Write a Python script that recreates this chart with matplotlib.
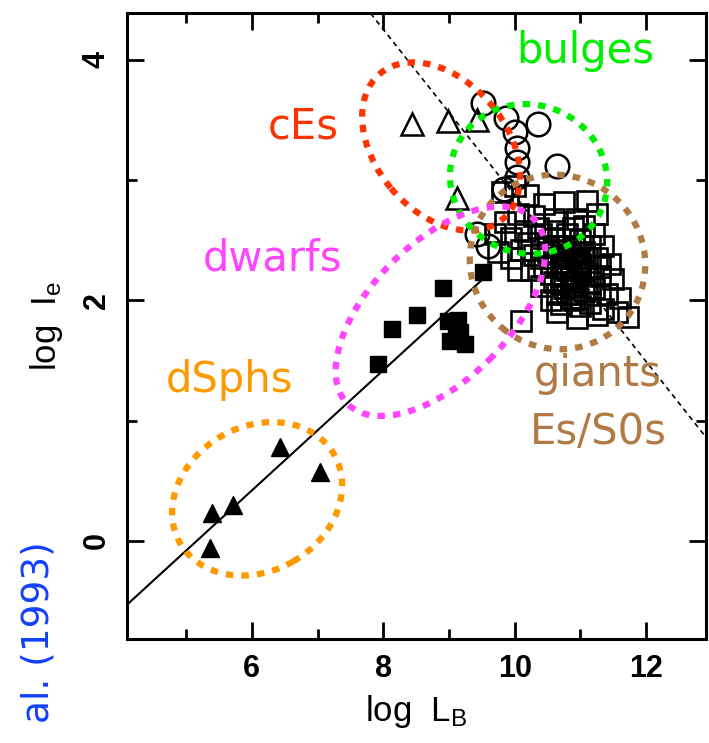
import matplotlib
matplotlib.use("Agg")
import matplotlib.pyplot as plt
from matplotlib.patches import Ellipse
from matplotlib.transforms import Affine2D, ScaledTranslation
from matplotlib.ticker import MultipleLocator

plt.rcParams['font.family'] = ['Liberation Sans', 'DejaVu Sans']
plt.rcParams['mathtext.fontset'] = 'custom'
plt.rcParams['mathtext.rm'] = 'Liberation Sans'
plt.rcParams['mathtext.it'] = 'Liberation Sans'

# dwarf spheroidals (filled triangles)
dsph_x = [5.39, 5.71, 5.36, 6.43, 7.04]
dsph_y = [0.23, 0.30, -0.06, 0.78, 0.57]

# dwarf ellipticals (filled squares)
dwarf_x = [7.92, 8.13, 8.52, 8.91, 8.99, 9.14, 9.17, 9.02, 9.25, 9.10, 9.52]
dwarf_y = [1.47, 1.76, 1.88, 2.10, 1.83, 1.84, 1.74, 1.66, 1.64, 1.70, 2.24]

# compact ellipticals (open triangles)
ce_x = [8.44, 8.99, 9.42, 9.12]
ce_y = [3.47, 3.49, 3.50, 2.85]

# bulges (open circles)
bulge_x = [9.52, 9.86, 10.01, 10.04, 10.04, 10.04, 9.83, 9.43, 9.60, 10.36, 10.65]
bulge_y = [3.64, 3.52, 3.40, 3.27, 3.15, 3.03, 2.93, 2.55, 2.45, 3.47, 3.12]

# giant ellipticals and S0s (open squares)
giant_x = [9.80, 10.00, 10.20, 10.45, 10.75, 11.10, 11.25, 10.95, 10.60, 10.30, 10.05, 9.85,
           9.70, 9.95, 10.15, 10.40, 10.60, 10.80, 11.00, 11.20, 11.35,
           9.75, 9.95, 10.10, 10.30, 10.50, 10.70, 10.85, 11.05, 11.25, 11.45,
           10.05, 10.25, 10.45, 10.65, 10.80, 10.95, 11.10, 11.30, 11.50,
           10.40, 10.60, 10.75, 10.90, 11.05, 11.20, 11.40, 11.60,
           10.55, 10.70, 10.85, 11.00, 11.15, 11.35, 11.55, 11.72,
           10.10, 10.65, 10.95, 11.25,
           10.75, 10.90, 10.85, 10.70, 11.00, 10.55, 10.95, 10.65, 11.15,
           10.60, 10.70, 10.80, 10.90, 10.95, 10.75, 10.85, 10.95, 11.05, 10.65,
           10.80, 10.90, 11.10, 10.50, 10.60, 10.88, 11.05, 10.35, 10.20, 10.40,
           11.15, 11.30, 10.70, 10.97]
giant_y = [2.90, 2.95, 2.88, 2.80, 2.82, 2.83, 2.72, 2.68, 2.68, 2.70, 2.72, 2.65,
           2.55, 2.52, 2.58, 2.55, 2.52, 2.55, 2.50, 2.55, 2.45,
           2.40, 2.35, 2.42, 2.38, 2.40, 2.42, 2.38, 2.40, 2.35, 2.30,
           2.25, 2.25, 2.28, 2.30, 2.25, 2.28, 2.22, 2.20, 2.18,
           2.12, 2.15, 2.10, 2.15, 2.08, 2.10, 2.05, 2.02,
           2.00, 1.97, 2.02, 1.95, 1.98, 1.93, 1.90, 1.86,
           1.83, 1.90, 1.85, 1.88,
           2.35, 2.45, 2.20, 2.20, 2.30, 2.22, 2.05, 2.45, 2.45,
           2.35, 2.28, 2.32, 2.35, 2.40, 2.45, 2.12, 2.18, 2.25, 2.05,
           2.05, 2.00, 2.35, 2.45, 2.58, 2.60, 2.62, 2.60, 2.48, 2.35,
           2.15, 2.28, 2.37, 2.32]

# fitted relation for dwarfs (solid) and the upper envelope (dashed)
fit_x = [4.1, 9.6]
fit_y = [-0.53, 2.22]
edge_x = [7.6, 13.0]
edge_y = [4.53, 0.80]

fig = plt.figure(figsize=(7.09, 7.43), dpi=100)
ax = fig.add_axes([0.1791, 0.1400, 0.8167, 0.8425])

ax.plot(fit_x, fit_y, color='black', lw=1.5, zorder=2)
ax.plot(edge_x, edge_y, color='black', lw=1.2, ls=(0, (3, 2.5)), zorder=2)

ax.plot(giant_x, giant_y, ls='none', marker='s', ms=14, mfc='none', mec='black', mew=1.9, zorder=3)
ax.plot(bulge_x, bulge_y, ls='none', marker='o', ms=17, mfc='none', mec='black', mew=1.8, zorder=3)
ax.plot(ce_x, ce_y, ls='none', marker='^', ms=16, mfc='none', mec='black', mew=1.8, zorder=3)
ax.plot(dwarf_x, dwarf_y, ls='none', marker='s', ms=12, color='black', zorder=3)
ax.plot(dsph_x, dsph_y, ls='none', marker='^', ms=13, color='black', zorder=3)

ax.set_xlim(4.1, 12.91)
ax.set_ylim(-0.815, 4.39)


def ring(xc, yc, w, h, angle, color):
    # ellipse sized in points, centred on a data position
    tr = Affine2D().scale(fig.dpi / 72) + ScaledTranslation(xc, yc, ax.transData)
    e = Ellipse((0, 0), w, h, angle=angle, transform=tr, fill=False,
                edgecolor=color, lw=4.5, linestyle=(0, (1.2, 1.3)), zorder=5)
    e.set_capstyle('butt')
    ax.add_patch(e)


ring(8.88, 3.28, 137, 94, -50, '#ff3300')
ring(10.21, 3.01, 114, 107, -20, '#00ee00')
ring(10.65, 2.32, 128, 124, -40, '#b07a45')
ring(8.87, 1.91, 189, 99, 45, '#ff44ff')
ring(6.08, 0.35, 128, 104, 30, '#ff9900')

lab = dict(fontsize=30, family='DejaVu Sans', ha='center', va='center', zorder=6)
ax.text(6.78, 3.45, 'cEs', color='#ff3300', **lab)
ax.text(11.08, 4.07, 'bulges', color='#00ee00', **lab)
ax.text(6.32, 2.35, 'dwarfs', color='#ff44ff', **lab)
ax.text(5.66, 1.34, 'dSphs', color='#ff9900', **lab)
ax.text(11.26, 1.39, 'giants', color='#b07a45', **lab)
ax.text(11.27, 0.91, 'Es/S0s', color='#b07a45', **lab)

ax.xaxis.set_major_locator(MultipleLocator(2))
ax.xaxis.set_minor_locator(MultipleLocator(1))
ax.yaxis.set_major_locator(MultipleLocator(2))
ax.yaxis.set_minor_locator(MultipleLocator(1))
ax.tick_params(which='both', direction='in', top=True, right=True, width=2)
ax.tick_params(which='major', length=12, labelsize=22, pad=11)
ax.tick_params(which='minor', length=7)
for t in ax.get_xticklabels() + ax.get_yticklabels():
    t.set_fontweight('bold')
for t in ax.get_yticklabels():
    t.set_rotation(90)
    t.set_va('center')
for s in ax.spines.values():
    s.set_linewidth(2.2)

ax.set_xlabel(r'log  $\mathrm{L_B}$', fontsize=25, labelpad=6)
ax.set_ylabel(r'log  $\mathrm{I_e}$', fontsize=25, labelpad=12)

fig.text(39 / 709, 1 - 541 / 743, 'al. (1993)', rotation=90,
         ha='center', va='top', color='#1040ff', fontsize=27, family='DejaVu Sans')

fig.savefig('out.png', dpi=100, facecolor='white')
